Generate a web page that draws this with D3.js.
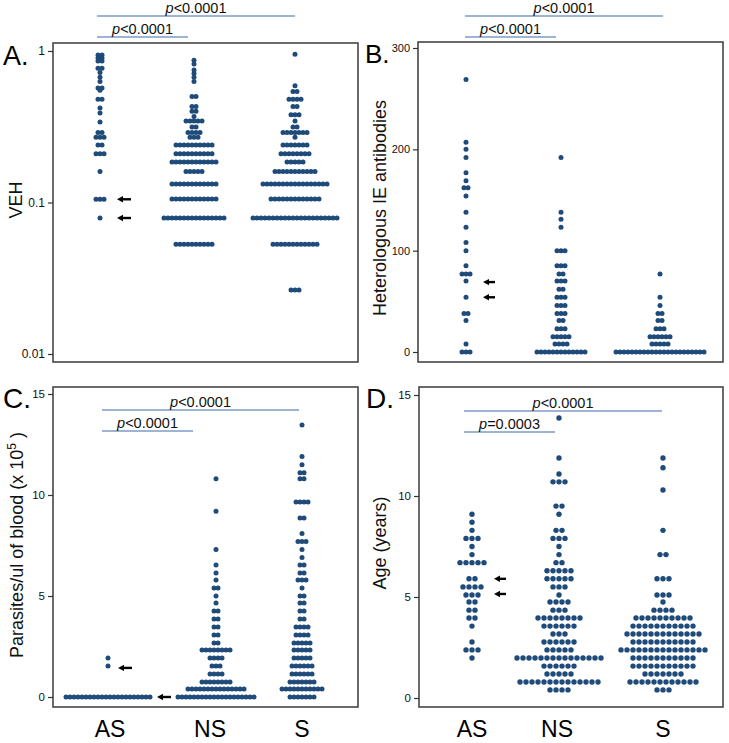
<!DOCTYPE html>
<html><head><meta charset="utf-8">
<script src="https://cdn.jsdelivr.net/npm/d3@7"></script>
<style>body{margin:0;background:#fff}svg{display:block;font-family:"Liberation Sans",Arial,sans-serif}</style>
</head><body><svg id="c" width="729" height="743"></svg>
<script>
const categories = ["AS", "NS", "S"];

// Each entry: [value, number of children at that value]
// Panel A: VEH
const vehAS = [[0.94,2],[0.90,2],[0.86,2],[0.77,2],[0.72,1],[0.67,1],[0.63,1],[0.57,2],[0.55,1],[0.48,2],[0.42,1],[0.39,1],[0.34,1],[0.29,2],[0.27,3],[0.24,2],[0.21,3],[0.16,1],[0.105,3],[0.079,1]];
const vehNS = [[0.87,1],[0.82,1],[0.75,1],[0.71,1],[0.67,1],[0.63,1],[0.50,2],[0.43,2],[0.40,2],[0.37,1],[0.345,5],[0.315,2],[0.29,4],[0.27,3],[0.24,10],[0.21,10],[0.185,12],[0.16,5],[0.1325,12],[0.1055,12],[0.079,16],[0.053,10]];
const vehS  = [[0.95,1],[0.59,1],[0.54,2],[0.48,4],[0.43,2],[0.38,3],[0.345,1],[0.315,2],[0.29,7],[0.27,1],[0.24,7],[0.21,8],[0.185,5],[0.16,11],[0.1325,17],[0.1055,13],[0.079,22],[0.053,12],[0.0265,3]];

// Panel B: Heterologous IE antibodies
const abAS = [[269,1],[207,1],[200,1],[192,1],[177,1],[169,1],[162,2],[154,1],[138,1],[123,1],[108,1],[100,1],[85,1],[77,3],[70,1],[54,1],[38,2],[31,1],[8,1],[0,3]];
const abNS = [[192,1],[138,1],[131,1],[123,1],[100,3],[85,3],[77,2],[70,3],[62,2],[54,3],[46,3],[38,3],[31,2],[23,3],[15,5],[8,4],[0,13]];
const abS  = [[77,1],[54,1],[46,1],[38,2],[31,2],[23,3],[15,6],[8,5],[0,23]];

// Panel C: Parasites/ul of blood (x 10^5)
const parAS = [[1.93,1],[1.53,1],[0,22]];
const parNS = [[10.8,1],[9.2,1],[7.3,1],[6.53,1],[6.14,1],[5.79,1],[5.40,2],[5.0,1],[4.65,1],[4.26,2],[3.86,2],[3.47,2],[3.07,2],[2.67,2],[2.33,8],[1.93,4],[1.53,3],[1.14,4],[0.74,8],[0.4,15],[0,20]];
const parS  = [[13.47,1],[11.9,1],[11.5,1],[11.1,2],[10.8,2],[9.65,4],[8.86,2],[8.1,1],[7.7,3],[7.3,1],[6.9,1],[6.53,2],[6.14,2],[5.79,3],[5.40,1],[5.0,2],[4.65,2],[4.26,2],[3.86,2],[3.47,4],[3.07,4],[2.67,5],[2.33,5],[1.93,5],[1.53,6],[1.14,6],[0.74,7],[0.4,11],[0,7]];

// Panel D: Age (years)
const ageAS = [[9.1,1],[8.7,1],[8.3,1],[7.9,3],[7.5,1],[7.1,1],[6.7,5],[5.9,2],[5.5,4],[5.1,3],[4.75,2],[4.35,2],[3.96,2],[3.56,1],[2.77,1],[2.38,3],[1.98,1]];
const ageNS = [[13.86,1],[11.88,1],[11.09,1],[10.7,3],[9.5,2],[9.1,1],[8.3,2],[7.9,3],[7.5,1],[7.1,1],[6.7,2],[6.3,5],[5.9,5],[5.5,3],[5.1,1],[4.75,4],[4.35,3],[3.96,8],[3.56,6],[3.17,3],[2.77,6],[2.38,5],[1.98,15],[1.58,6],[1.19,5],[0.79,14],[0.4,4]];
const ageS  = [[11.88,1],[11.4,1],[10.3,1],[8.3,1],[7.1,2],[5.9,3],[5.1,3],[4.75,1],[4.35,4],[3.96,10],[3.56,11],[3.17,13],[2.77,11],[2.38,15],[1.98,11],[1.58,11],[1.19,7],[0.79,12],[0.4,3]];

// Tick values
const ticksA = [0.01, 0.1, 1];
const ticksB = [0, 100, 200, 300];
const ticksC = [0, 5, 10, 15];
const ticksD = [0, 5, 10, 15];

// Significance comparisons: [group1, group2, relation, p value]
const compA = [["AS","S","<","0.0001"],["AS","NS","<","0.0001"]];
const compB = [["AS","S","<","0.0001"],["AS","NS","<","0.0001"]];
const compC = [["AS","S","<","0.0001"],["AS","NS","<","0.0001"]];
const compD = [["AS","S","<","0.0001"],["AS","NS","=","0.0003"]];

// Arrow marks (values of highlighted children)
const arrowsA = [0.105, 0.079];
const arrowsB = [69, 54];
const arrowsC = [1.44, 0];
const arrowsD = [5.9, 5.15];

const titles = {A:"VEH", B:"Heterologous IE antibodies", C:"Parasites/ul of blood (x 10", D:"Age (years)"};

const panels = [
  {id:"A", data:[vehAS,vehNS,vehS], log:true, domain:[0.01,1], yRange:[354,51], ticks:ticksA, fmt:d=>String(d),
   frame:[53,43,358,362], gx:[100,194,295], step:4, r:2.5, tickFont:12, comp:compA,
   br:[{x1:97,x2:295,y:16},{x1:97,x2:188,y:37}], arrows:arrowsA, ax:[[117,131],[117,131]],
   letter:[3,65,27], title:[22,200], labels:null},
  {id:"B", data:[abAS,abNS,abS], log:false, domain:[0,300], yRange:[352,48], ticks:ticksB, fmt:d=>String(d),
   frame:[418,42,723,362], gx:[466,561,660], step:4, r:2.5, tickFont:11, comp:compB,
   br:[{x1:465,x2:663,y:16},{x1:465,x2:556,y:37}], arrows:arrowsB, ax:[[483,495],[483,495]],
   letter:[365,63,26], title:[386,208], labels:null},
  {id:"C", data:[parAS,parNS,parS], log:false, domain:[0,15], yRange:[697,394], ticks:ticksC, fmt:d=>String(d),
   frame:[53,387,358,707], gx:[108,216,302], step:4, r:2.5, tickFont:11.5, comp:compC,
   br:[{x1:102,x2:299,y:410},{x1:102,x2:193,y:431}], arrows:arrowsC, ax:[[118,132],[157,171]],
   letter:[3,408,28], title:[23,545], labels:[110,210,302]},
  {id:"D", data:[ageAS,ageNS,ageS], log:false, domain:[0,15], yRange:[698,395], ticks:ticksD, fmt:d=>String(d),
   frame:[419,387,723,707], gx:[472,559,663], step:6, r:2.7, tickFont:11.5, comp:compD,
   br:[{x1:464,x2:662,y:411},{x1:464,x2:555,y:432}], arrows:arrowsD, ax:[[494,506],[494,506]],
   letter:[366,408,28], title:[386,543], labels:[472,557,663]}
];

const svg = d3.select("#c");
const dotColor = "#1f4b7a";

panels.forEach(p => {
  const g = svg.append("g");
  const y = (p.log ? d3.scaleLog() : d3.scaleLinear()).domain(p.domain).range(p.yRange);
  const x = d3.scaleOrdinal().domain(categories).range(p.gx);
  const [fx0, fy0, fx1, fy1] = p.frame;

  // frame
  g.append("rect").attr("x", fx0).attr("y", fy0).attr("width", fx1 - fx0).attr("height", fy1 - fy0)
    .attr("fill", "none").attr("stroke", "#3a3a3a").attr("stroke-width", 1.5);

  // axis
  const axis = d3.axisLeft(y).tickValues(p.ticks).tickFormat(p.fmt).tickSize(5).tickPadding(3);
  const ag = g.append("g").attr("transform", `translate(${fx0},0)`).call(axis);
  ag.select(".domain").remove();
  ag.selectAll(".tick line").attr("stroke", "#333").attr("stroke-width", 1.2);
  ag.selectAll(".tick text").attr("font-size", p.tickFont).attr("fill", "#111")
    .attr("font-family", '"Liberation Sans",Arial,sans-serif');

  // dots (rows centred on the group)
  const pts = [];
  categories.forEach((c, ci) => {
    p.data[ci].forEach(([v, n]) => {
      for (let i = 0; i < n; i++) pts.push({c, v, off: (i - (n - 1) / 2) * p.step});
    });
  });
  g.append("g").selectAll("circle").data(pts).join("circle")
    .attr("cx", d => x(d.c) + d.off).attr("cy", d => y(d.v)).attr("r", p.r)
    .attr("fill", dotColor);

  // arrows
  p.arrows.forEach((v, i) => {
    const [a1, a2] = p.ax[i];
    const yy = y(v);
    g.append("line").attr("x1", a1 + 4).attr("x2", a2).attr("y1", yy).attr("y2", yy)
      .attr("stroke", "#000").attr("stroke-width", 2.4);
    g.append("path").attr("d", `M${a1},${yy} L${a1 + 6},${yy - 3.2} L${a1 + 6},${yy + 3.2} Z`).attr("fill", "#000");
  });

  // significance brackets
  p.comp.forEach((cmp, i) => {
    const b = p.br[i];
    g.append("line").attr("x1", b.x1).attr("x2", b.x2).attr("y1", b.y).attr("y2", b.y)
      .attr("stroke", "#7d9bc6").attr("stroke-width", 1.3);
    const t = g.append("text").attr("x", (b.x1 + b.x2) / 2).attr("y", b.y - 3.5)
      .attr("text-anchor", "middle").attr("font-size", 14.5).attr("fill", "#111");
    t.append("tspan").attr("font-style", "italic").text("p");
    t.append("tspan").text(cmp[2] + cmp[3]);
  });

  // panel letter
  g.append("text").attr("x", p.letter[0]).attr("y", p.letter[1]).attr("font-size", p.letter[2])
    .attr("fill", "#000").text(p.id + ".");

  // y title
  const tt = g.append("text").attr("transform", `translate(${p.title[0]},${p.title[1]}) rotate(-90)`)
    .attr("text-anchor", "middle").attr("font-size", 18).attr("fill", "#111");
  if (p.id === "C") {
    tt.append("tspan").text(titles.C);
    tt.append("tspan").attr("dy", -7).attr("font-size", 12).text("5");
    tt.append("tspan").attr("dy", 7).text(" )");
  } else {
    tt.text(titles[p.id]);
  }

  // category labels
  if (p.labels) {
    const lx = d3.scaleOrdinal().domain(categories).range(p.labels);
    g.selectAll(".cat").data(categories).join("text").attr("class", "cat")
      .attr("x", d => lx(d)).attr("y", 737).attr("text-anchor", "middle")
      .attr("font-size", 23).attr("fill", "#000").text(d => d);
  }
});
</script></body></html>
